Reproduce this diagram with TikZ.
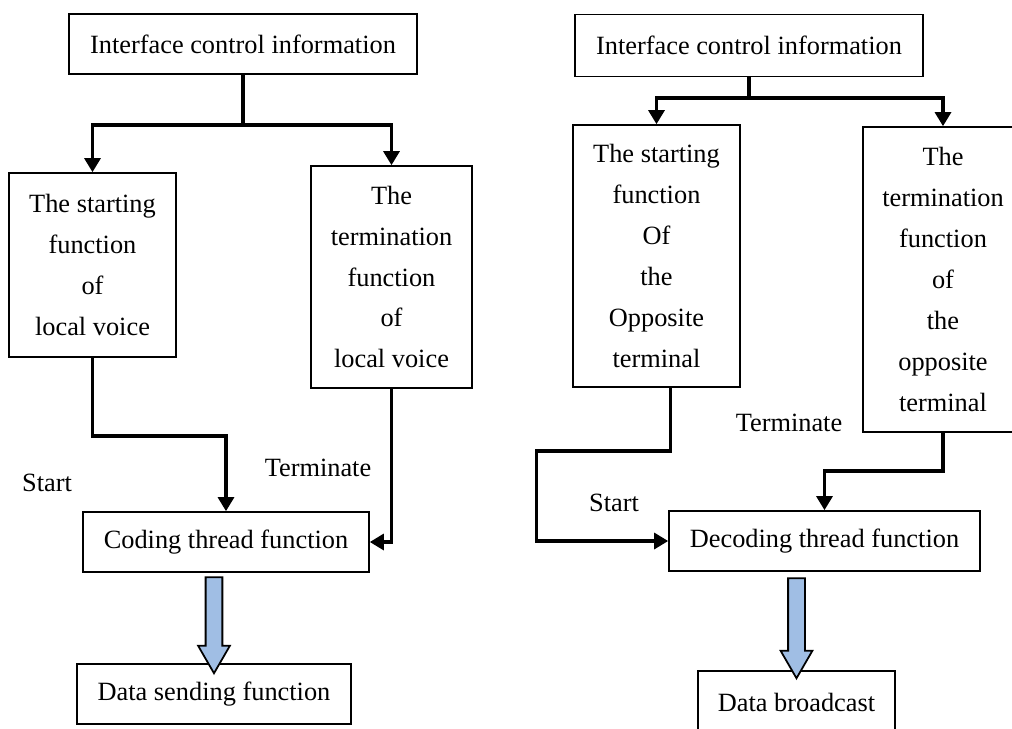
\documentclass[tikz,border=0pt]{standalone}
\usepackage{fontspec}
\setmainfont{Liberation Serif}
\usepackage{tikz}
\usetikzlibrary{shapes.arrows,arrows.meta}
\usepackage{xcolor}
\definecolor{fatblue}{RGB}{160,190,228}

\begin{document}
\begin{tikzpicture}[x=0.02cm,y=-0.02cm]
    %styles
    \tikzstyle{block}=[rectangle,draw,line width=0.9pt,align=center,inner sep=0pt,font=\fontsize{15}{23.3}\selectfont]
    \tikzstyle{lbl}=[font=\fontsize{15}{18}\selectfont]
    \tikzstyle{commu}=[-{Triangle[length=8pt,width=9pt]},line width=2pt]
    \tikzstyle{fat}=[single arrow,draw,line width=1pt,fill=fatblue,rotate=-90,inner sep=0.15cm,single arrow head extend=0.15cm,single arrow tip angle=60,single arrow head indent=0pt]
    \clip (0,0) rectangle (1012,728);
    %nodes coding side
    \node[block,minimum width=6.96cm,minimum height=1.2cm] (info1) at (243,44) {Interface control information};
    \node[block,minimum width=3.34cm,minimum height=3.68cm] (startL) at (92.5,265) {The starting\\function\\of\\local voice};
    \node[block,minimum width=3.22cm,minimum height=4.44cm] (stopL) at (391.5,277) {The\\termination\\function\\of\\local voice};
    \node[block,minimum width=5.72cm,minimum height=1.2cm] (code) at (226,542) {Coding thread function};
    \node[block,minimum width=5.48cm,minimum height=1.2cm] (send) at (214,694) {Data sending function};
    \node[lbl] (startlblL) at (47,483) {Start};
    \node[lbl] (termlblL) at (318,468) {Terminate};
    \coordinate (splitL) at (243,125);

    %nodes decoding side
    \node[block,minimum width=6.96cm,minimum height=1.24cm] (info2) at (749,45.5) {Interface control information};
    \node[block,minimum width=3.34cm,minimum height=5.24cm] (startR) at (656.5,256) {The starting\\function\\Of\\the\\Opposite\\terminal};
    \node[block,minimum width=3.2cm,minimum height=6.1cm] (stopR) at (943,279.5) {The\\termination\\function\\of\\the\\opposite\\terminal};
    \node[block,minimum width=6.22cm,minimum height=1.2cm] (decode) at (824.5,541) {Decoding thread function};
    \node[block,minimum width=3.94cm,minimum height=1.24cm] (bcast) at (796.5,702) {Data broadcast};
    \node[lbl] (startlblR) at (614,503) {Start};
    \node[lbl] (termlblR) at (789,423) {Terminate};
    \coordinate (splitR) at (749,98);

    %arrows coding side
    \draw[commu] (info1.south) -- (splitL) -| (startL.north);
    \draw[commu] (splitL) -| (stopL.north);
    \draw[commu] (startL.south) -- ++(0,78) -| (code.north);
    \draw[commu] (stopL.south) |- (code.east);
    \path (code.south -| send.north) -- (send.north) node[midway,fat,minimum height=1.92cm] (fatL) {};

    %arrows decoding side
    \draw[commu] (info2.south) -- (splitR) -| (startR.north);
    \draw[commu] (splitR) -| (stopR.north);
    \draw[commu] ([xshift=0.28cm]startR.south) -- ++(0,63) -- ++(-134,0) |- (decode.west);
    \draw[commu] (stopR.south) -- ++(0,38) -| (decode.north);
    \path (decode.south -| bcast.north) -- (bcast.north) node[midway,fat,minimum height=2cm] (fatR) {};
\end{tikzpicture}
\end{document}
